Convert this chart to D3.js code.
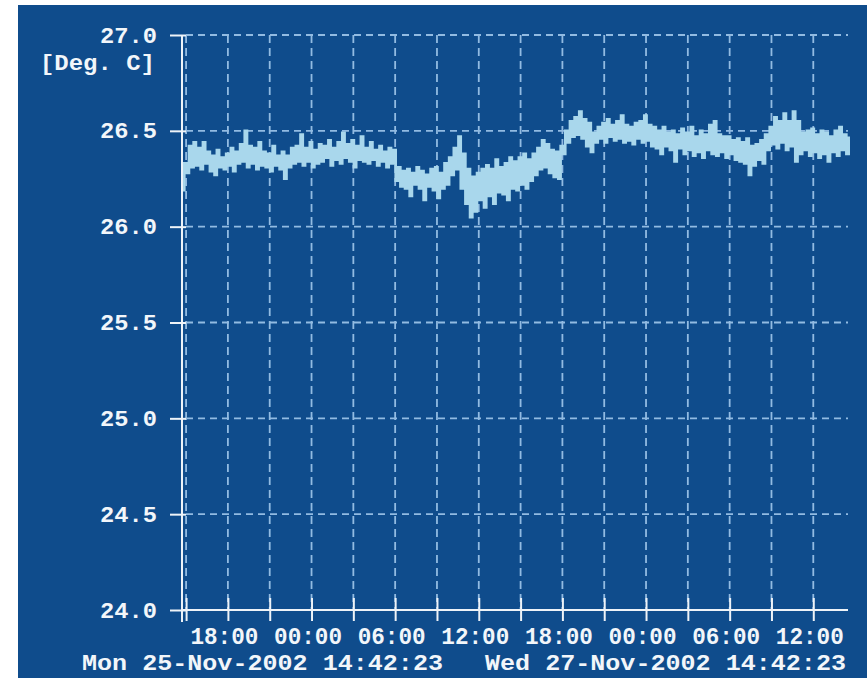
<!DOCTYPE html>
<html>
<head>
<meta charset="utf-8">
<script src="https://cdn.jsdelivr.net/npm/d3@7"></script>
<style>
  html, body { margin: 0; padding: 0; background: #ffffff; }
  svg { display: block; }
</style>
</head>
<body>
<svg id="chart" width="867" height="678"></svg>
<script>
// Logger record: temperature from Mon 25-Nov-2002 14:42:23 over 48 hours.
const startTime = new Date(2002, 10, 25, 14, 42, 23);
const endTime = new Date(2002, 10, 27, 14, 42, 23);
const sampleMinutes = 20;

const yTicks = [24.0, 24.5, 25.0, 25.5, 26.0, 26.5, 27.0];
const unitLabel = "[Deg. C]";
const startLabel = "Mon 25-Nov-2002 14:42:23";
const endLabel = "Wed 27-Nov-2002 14:42:23";

// Per 20-minute interval: lowest and highest reading (three intervals per hour).
const lowTemps = [
  26.19, 26.28, 26.31,  26.32, 26.30, 26.33,  26.29, 26.27, 26.31,  26.30, 26.32, 26.29,
  26.33, 26.34, 26.31,  26.33, 26.30, 26.32,  26.31, 26.29, 26.32,  26.30, 26.25, 26.31,
  26.33, 26.34, 26.32,  26.34, 26.31, 26.33,  26.34, 26.36, 26.32,  26.35, 26.33, 26.36,
  26.34, 26.31, 26.35,  26.34, 26.33, 26.35,  26.32, 26.34, 26.31,  26.33, 26.24, 26.21,
  26.20, 26.16, 26.22,  26.20, 26.14, 26.21,  26.19, 26.15, 26.20,  26.22, 26.27, 26.30,
  26.20, 26.12, 26.05,  26.08, 26.14, 26.10,  26.16, 26.12, 26.18,  26.17, 26.14, 26.20,
  26.19, 26.22, 26.20,  26.24, 26.27, 26.30,  26.31, 26.28, 26.26,  26.25, 26.38, 26.44,
  26.47, 26.48, 26.46,  26.42, 26.39, 26.44,  26.46, 26.44, 26.47,  26.45, 26.46, 26.44,
  26.45, 26.43, 26.46,  26.44, 26.45, 26.42,  26.41, 26.38, 26.42,  26.40, 26.34, 26.41,
  26.38, 26.40, 26.37,  26.39, 26.36, 26.40,  26.38, 26.37, 26.39,  26.36, 26.38, 26.35,
  26.34, 26.33, 26.27,  26.32, 26.35, 26.33,  26.40, 26.43, 26.41,  26.44, 26.40, 26.42,
  26.34, 26.38, 26.40,  26.37, 26.39, 26.36,  26.38, 26.34, 26.39,  26.37, 26.40, 26.38
];
const highTemps = [
  26.33, 26.42, 26.44,  26.41, 26.44, 26.39,  26.37, 26.40, 26.36,  26.38, 26.41, 26.39,
  26.43, 26.50, 26.42,  26.41, 26.44, 26.39,  26.38, 26.42, 26.37,  26.39, 26.37, 26.41,
  26.42, 26.48, 26.41,  26.44, 26.40, 26.43,  26.42, 26.45, 26.41,  26.44, 26.49, 26.43,
  26.45, 26.42, 26.47,  26.41, 26.44, 26.40,  26.42, 26.39, 26.41,  26.40, 26.31, 26.29,
  26.30, 26.28, 26.31,  26.29, 26.27, 26.30,  26.31, 26.28, 26.33,  26.36, 26.41, 26.47,
  26.38, 26.30, 26.26,  26.28, 26.30, 26.32,  26.30, 26.35, 26.31,  26.33, 26.36, 26.34,
  26.36, 26.38, 26.35,  26.38, 26.41, 26.45,  26.43, 26.40, 26.39,  26.42, 26.50, 26.55,
  26.57, 26.60, 26.56,  26.54, 26.49, 26.52,  26.54, 26.56, 26.53,  26.55, 26.58, 26.53,
  26.52, 26.54, 26.55,  26.58, 26.53, 26.52,  26.50, 26.52, 26.49,  26.50, 26.48, 26.51,
  26.49, 26.52, 26.47,  26.50, 26.48, 26.53,  26.55, 26.48, 26.47,  26.47, 26.45, 26.46,
  26.44, 26.46, 26.42,  26.43, 26.45, 26.48,  26.52, 26.57, 26.55,  26.59, 26.55, 26.60,
  26.55, 26.49, 26.50,  26.51, 26.48, 26.50,  26.49, 26.47, 26.50,  26.52, 26.48, 26.47
];

const colors = {
  panel: "#0f4c8c",
  grid: "#92bbe2",
  axis: "#eef3f8",
  text: "#f2f6fa",
  trace: "#a9d7ec"
};

const svg = d3.select("#chart");
const W = 867, H = 678;

const x = d3.scaleTime().domain([startTime, endTime]).range([182, 851]);
const y = d3.scaleLinear().domain([24, 27]).range([610, 35]);

const font = "'Liberation Mono', 'DejaVu Sans Mono', monospace";

// panel background
svg.append("rect")
  .attr("x", 18).attr("y", 5)
  .attr("width", W - 18).attr("height", H - 5)
  .attr("fill", colors.panel);

const timeTicks = x.ticks(d3.timeHour.every(3));
const gridRight = 848;

// dashed grid
svg.append("g")
  .selectAll("line")
  .data(yTicks.filter(v => v > 24))
  .join("line")
  .attr("x1", 186).attr("x2", gridRight)
  .attr("y1", d => y(d)).attr("y2", d => y(d))
  .attr("stroke", colors.grid)
  .attr("stroke-width", 1.8)
  .attr("stroke-dasharray", "7,5");

svg.append("g")
  .selectAll("line")
  .data(timeTicks)
  .join("line")
  .attr("x1", d => x(d)).attr("x2", d => x(d))
  .attr("y1", y(27)).attr("y2", y(24))
  .attr("stroke", colors.grid)
  .attr("stroke-width", 1.8)
  .attr("stroke-dasharray", "8,5");

// temperature trace: low then high inside each interval, drawn as steps
const points = [];
lowTemps.forEach((lo, i) => {
  const t0 = d3.timeMinute.offset(startTime, i * sampleMinutes);
  const t1 = d3.timeMinute.offset(startTime, i * sampleMinutes + sampleMinutes / 2);
  points.push([t0, lo]);
  points.push([t1, highTemps[i]]);
});

svg.append("path")
  .datum(points)
  .attr("fill", "none")
  .attr("stroke", colors.trace)
  .attr("stroke-width", 2.6)
  .attr("d", d3.line().curve(d3.curveStepAfter).x(d => x(d[0])).y(d => y(d[1])));

// y axis
const yAxis = svg.append("g")
  .attr("transform", "translate(182,0)")
  .call(d3.axisLeft(y).tickValues(yTicks).tickFormat(d3.format(".1f")).tickSize(12).tickPadding(13));
yAxis.select(".domain").remove();
yAxis.selectAll(".tick line")
  .attr("x1", -12).attr("x2", 4)
  .attr("stroke", colors.axis).attr("stroke-width", 2);
yAxis.selectAll(".tick text")
  .attr("fill", colors.text)
  .attr("font-family", font)
  .attr("font-weight", "bold")
  .attr("font-size", 22)
  .attr("textLength", 57)
  .attr("lengthAdjust", "spacingAndGlyphs");

svg.append("line")
  .attr("x1", 182).attr("x2", 182)
  .attr("y1", y(27)).attr("y2", 622)
  .attr("stroke", colors.axis).attr("stroke-width", 2);

svg.append("text")
  .attr("x", 155).attr("y", 70)
  .attr("text-anchor", "end")
  .attr("fill", colors.text)
  .attr("font-family", font)
  .attr("font-weight", "bold")
  .attr("font-size", 22)
  .attr("textLength", 115)
  .attr("lengthAdjust", "spacingAndGlyphs")
  .text(unitLabel);

// x axis
const fmtHour = d3.timeFormat("%H:%M");
const xAxis = svg.append("g")
  .attr("transform", `translate(0,${y(24)})`)
  .call(d3.axisBottom(x).tickValues(timeTicks)
    .tickFormat(d => d.getHours() % 6 === 0 ? fmtHour(d) : "")
    .tickSize(11).tickSizeOuter(0).tickPadding(0));
xAxis.select(".domain").remove();
xAxis.selectAll(".tick line")
  .attr("y1", -12).attr("y2", 11)
  .attr("stroke", colors.axis).attr("stroke-width", 2);
xAxis.selectAll(".tick text")
  .attr("x", -4).attr("y", 34).attr("dy", null)
  .attr("fill", colors.text)
  .attr("font-family", font)
  .attr("font-weight", "bold")
  .attr("font-size", 24)
  .attr("textLength", function() { return this.textContent ? 68 : null; })
  .attr("lengthAdjust", "spacingAndGlyphs");

svg.append("line")
  .attr("x1", 182).attr("x2", gridRight)
  .attr("y1", y(24)).attr("y2", y(24))
  .attr("stroke", colors.axis).attr("stroke-width", 2);

// start / end stamps
[[startLabel, 82, "start"], [endLabel, 846, "end"]].forEach(([label, px, anchor]) => {
  svg.append("text")
    .attr("x", px).attr("y", 670)
    .attr("text-anchor", anchor)
    .attr("fill", colors.text)
    .attr("font-family", font)
    .attr("font-weight", "bold")
    .attr("font-size", 22)
    .attr("textLength", 361)
    .attr("lengthAdjust", "spacingAndGlyphs")
    .text(label);
});
</script>
</body>
</html>
